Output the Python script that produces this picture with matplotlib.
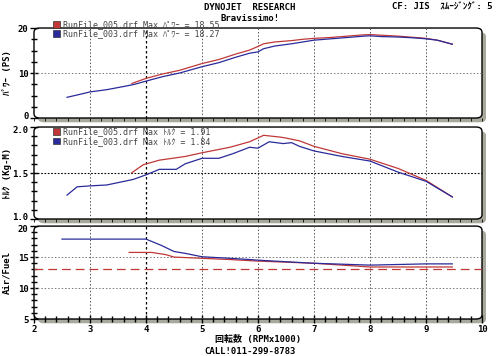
import matplotlib
matplotlib.use('Agg')

import matplotlib.pyplot as plt
import matplotlib.transforms as mtransforms
import numpy as np
from matplotlib.patches import FancyBboxPatch, Rectangle
from matplotlib.ticker import MultipleLocator

plt.rcParams['font.family'] = ['DejaVu Sans Mono', 'Noto Sans CJK JP']

# power (PS)
pw_rpm_003 = [2.59, 2.8, 3.0, 3.3, 3.6, 3.8, 4.0, 4.3, 4.6, 5.0, 5.3, 5.6, 5.85, 6.0, 6.1,
              6.3, 6.6, 6.8, 7.0, 7.3, 7.6, 7.9, 8.0, 8.2, 8.5, 8.8, 9.0, 9.2, 9.47]
pw_003 = [4.6, 5.2, 5.8, 6.3, 7.0, 7.5, 8.2, 9.2, 10.0, 11.4, 12.3, 13.5, 14.4, 14.7, 15.4,
          16.0, 16.5, 16.9, 17.3, 17.6, 17.9, 18.2, 18.27, 18.1, 18.0, 17.8, 17.6, 17.3, 16.4]
pw_rpm_005 = [3.75, 4.0, 4.3, 4.6, 5.0, 5.3, 5.6, 5.85, 6.0, 6.1, 6.3, 6.6, 6.8, 7.0, 7.3,
              7.6, 7.9, 8.0, 8.2, 8.5, 8.8, 9.0, 9.2, 9.47]
pw_005 = [7.7, 8.8, 9.8, 10.6, 12.1, 13.0, 14.2, 15.1, 15.9, 16.5, 16.9, 17.2, 17.5, 17.7, 17.9,
          18.2, 18.5, 18.55, 18.4, 18.2, 17.9, 17.7, 17.3, 16.4]

# torque (Kg-M)
tq_rpm_003 = [2.59, 2.77, 3.0, 3.3, 3.77, 4.0, 4.24, 4.54, 4.7, 5.0, 5.3, 5.55, 5.85, 6.0,
              6.2, 6.45, 6.6, 6.74, 7.0, 7.5, 8.0, 8.5, 9.0, 9.47]
tq_003 = [1.26, 1.35, 1.36, 1.37, 1.43, 1.48, 1.54, 1.54, 1.60, 1.66, 1.66, 1.71, 1.78, 1.77,
          1.84, 1.82, 1.83, 1.79, 1.74, 1.68, 1.63, 1.51, 1.41, 1.24]
tq_rpm_005 = [3.74, 3.95, 4.24, 4.7, 5.0, 5.5, 5.85, 6.1, 6.4, 6.5, 6.74, 7.0, 7.5, 8.0, 8.5,
              9.0, 9.47]
tq_005 = [1.50, 1.59, 1.64, 1.68, 1.72, 1.78, 1.84, 1.91, 1.89, 1.88, 1.85, 1.79, 1.71, 1.65,
          1.55, 1.42, 1.24]

# air/fuel
af_rpm_003 = [2.5, 4.0, 4.27, 4.5, 4.7, 5.0, 5.5, 5.85, 6.0, 7.0, 8.0, 9.0, 9.47]
af_003 = [17.9, 17.9, 16.9, 15.9, 15.6, 15.05, 14.8, 14.6, 14.5, 14.0, 13.7, 13.9, 13.9]
af_rpm_005 = [3.7, 4.1, 4.35, 4.5, 5.0, 5.5, 6.0, 7.0, 8.0, 9.0, 9.47]
af_005 = [15.75, 15.75, 15.4, 15.0, 14.8, 14.6, 14.35, 14.0, 13.4, 13.4, 13.4]
af_target = 13.0

red = '#c03838'
blue = '#2a2a9a'

fig = plt.figure(figsize=(5, 3.56), dpi=100)
fig.patch.set_facecolor('white')

left, width = 0.068, 0.896
ax1 = fig.add_axes([left, 0.6685, width, 0.2528])
ax2 = fig.add_axes([left, 0.3848, width, 0.2584])
ax3 = fig.add_axes([left, 0.1039, width, 0.2610])

for ax in (ax1, ax2, ax3):
    pos = ax.get_position()
    sh = FancyBboxPatch((pos.x0 + 0.008, pos.y0 - 0.012), pos.width, pos.height,
                        boxstyle='round,pad=0,rounding_size=0.012', transform=fig.transFigure,
                        facecolor='#a8a89c', edgecolor='none', zorder=-3)
    fr = FancyBboxPatch((pos.x0, pos.y0), pos.width, pos.height,
                        boxstyle='round,pad=0,rounding_size=0.012', transform=fig.transFigure,
                        facecolor='white', edgecolor='black', linewidth=1.0, zorder=-2)
    fig.patches.extend([sh, fr])
    ax.patch.set_visible(False)
    for s in ax.spines.values():
        s.set_visible(False)
    ax.set_xlim(2, 10)
    for xv in (3, 5, 6, 7, 8, 9):
        ax.axvline(xv, color='#555555', linestyle=(0, (1.5, 2)), linewidth=0.7)
    ax.axvline(4, color='black', linestyle=(0, (2, 2)), linewidth=0.9)
    ax.tick_params(axis='y', which='both', direction='inout', length=6, width=1,
                   labelsize=6.5, pad=1)
    ax.tick_params(axis='y', which='minor', length=4)
    ax.xaxis.set_minor_locator(MultipleLocator(0.2))

# power
ax1.set_ylim(0, 20)
ax1.set_yticks([0, 10, 20])
ax1.yaxis.set_minor_locator(MultipleLocator(2.5))
ax1.axhline(10, color='#777777', linestyle=(0, (1.5, 2)), linewidth=0.7)
ax1.plot(pw_rpm_005, pw_005, color=red, linewidth=0.9)
ax1.plot(pw_rpm_003, pw_003, color=blue, linewidth=0.9)
ax1.set_ylabel('ﾊﾟﾜｰ (PS)', fontsize=6.5, fontweight='bold')
ax1.set_xticks([])

# torque
ax2.set_ylim(1.0, 2.0)
ax2.set_yticks([1.0, 1.5, 2.0])
ax2.set_yticklabels(['1.0', '1.5', '2.0'])
ax2.yaxis.set_minor_locator(MultipleLocator(0.1))
ax2.axhline(1.5, color='black', linestyle=(0, (1.5, 1.5)), linewidth=0.8)
ax2.plot(tq_rpm_005, tq_005, color=red, linewidth=0.9)
ax2.plot(tq_rpm_003, tq_003, color=blue, linewidth=0.9)
ax2.set_ylabel('ﾄﾙｸ (Kg-M)', fontsize=6.5, fontweight='bold')
ax2.set_xticks([])

# air/fuel
ax3.set_ylim(5, 20)
ax3.set_yticks([5, 10, 15, 20])
ax3.yaxis.set_minor_locator(MultipleLocator(1))
for yv in (10, 15):
    ax3.axhline(yv, color='#777777', linestyle=(0, (1.5, 2)), linewidth=0.7)
ax3.axhline(af_target, color=red, linestyle=(0, (7, 4)), linewidth=0.9)
ax3.plot(af_rpm_005, af_005, color=red, linewidth=0.9)
ax3.plot(af_rpm_003, af_003, color=blue, linewidth=0.9)
ax3.set_ylabel('Air/Fuel', fontsize=6.5, fontweight='bold')
ax3.set_xticks(range(2, 11))
ax3.tick_params(axis='x', which='both', direction='inout', length=6, width=1,
                labelsize=6.5, pad=1)
ax3.tick_params(axis='x', which='minor', length=4)
ax3.set_xlabel('回転数 (RPMx1000)', fontsize=6.5, fontweight='bold', labelpad=1)

for ax in (ax1, ax2, ax3):
    ax.yaxis.set_label_coords(-0.05, 0.5)
    for lab in ax.get_xticklabels() + ax.get_yticklabels():
        lab.set_fontweight('bold')

# stacked labels at the panel joins sit tight, nudge them apart a little
up = mtransforms.ScaledTranslation(0, 2 / 72, fig.dpi_scale_trans)
down = mtransforms.ScaledTranslation(0, -2 / 72, fig.dpi_scale_trans)
for ax, top_lab, bot_lab in ((ax1, None, 0), (ax2, -1, 0), (ax3, -1, None)):
    labs = ax.get_yticklabels()
    if bot_lab is not None:
        labs[bot_lab].set_transform(labs[bot_lab].get_transform() + up)
    if top_lab is not None:
        labs[top_lab].set_transform(labs[top_lab].get_transform() + down)

# legends
def legend(ax, y0, lines):
    for i, (c, txt) in enumerate(lines):
        y = y0 - i * 0.105
        ax.add_patch(Rectangle((0.043, y - 0.035), 0.016, 0.075, transform=ax.transAxes,
                               facecolor=c, edgecolor='#333333', linewidth=0.5,
                               clip_on=False, zorder=5))
        ax.text(0.064, y, txt, transform=ax.transAxes, fontsize=6, va='center',
                ha='left', color='#444444', zorder=5)

legend(ax1, 1.04, [(red, 'RunFile_005.drf Max ﾊﾟﾜｰ = 18.55'),
                   (blue, 'RunFile_003.drf Max ﾊﾟﾜｰ = 18.27')])
legend(ax2, 0.95, [(red, 'RunFile_005.drf Max ﾄﾙｸ = 1.91'),
                   (blue, 'RunFile_003.drf Max ﾄﾙｸ = 1.84')])

fig.text(0.5, 0.978, 'DYNOJET  RESEARCH', ha='center', va='center', fontsize=6.5,
         fontweight='bold')
fig.text(0.5, 0.948, 'Bravissimo!', ha='center', va='center', fontsize=6.5,
         fontweight='bold')
fig.text(0.984, 0.982, 'CF: JIS  ｽﾑｰｼﾞﾝｸﾞ: 5', ha='right', va='center', fontsize=6.5,
         fontweight='bold')
fig.text(0.5, 0.013, 'CALL!011-299-8783', ha='center', va='center', fontsize=6.5,
         fontweight='bold')

fig.savefig('out.png', dpi=100)
